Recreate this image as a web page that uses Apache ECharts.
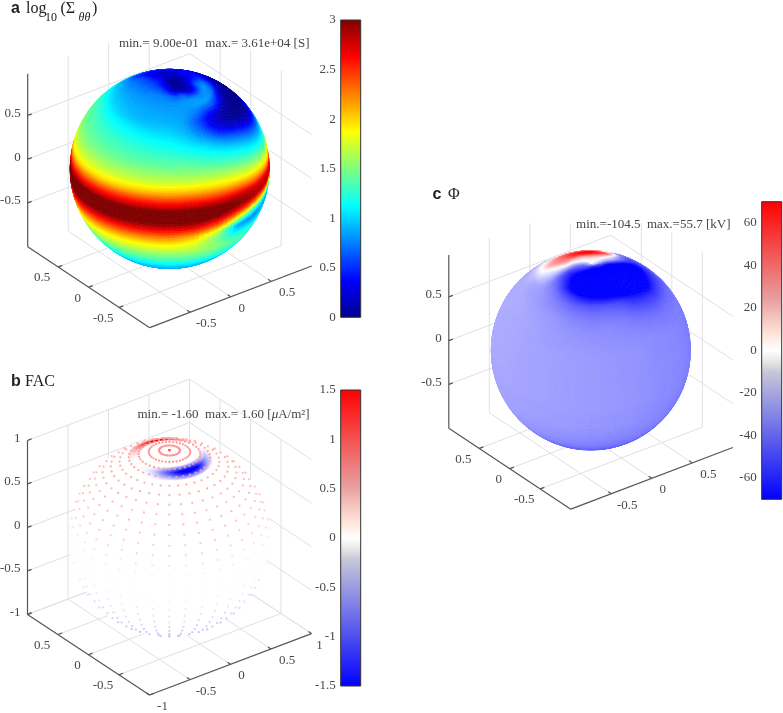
<!DOCTYPE html>
<html><head><meta charset="utf-8">
<style>html,body{margin:0;padding:0;background:#fff}#c{width:783px;height:713px}</style>
<script src="https://cdn.jsdelivr.net/npm/echarts@6/dist/echarts.min.js"></script>
</head><body><div id="c"></div>
<script>
// ---------- values ----------
const lonDeg = [-180,-165,-150,-135,-120,-105,-90,-75,-60,-45,-30,-15,0,15,30,45,60,75,90,105,120,135,150,165]; // relative to the meridian facing the viewer
const latDeg = [90,85,80,75,70,65,60,55,50,45,40,35,30,25,20,15,10,5,0,-5,-10,-15,-20,-25,-30,-35,-40,-45,-50,-55,-60,-65];

const sigma90 = [.05,.05,.05,.05,.05,.05,.05,.05,.05,.05,.05,.05,.05,.05,.05,.05,.05,.05,.05,.05,.05,.05,.05,.05];
const sigma85 = [.15,.15,.2,.25,.35,.4,.4,.4,.4,.35,.3,.2,.1,.05,.05,.05,.05,.05,.05,.05,.05,.1,.1,.15];
const sigma80 = [.15,.2,.25,.3,.4,.5,.55,.6,.6,.6,.6,.5,.35,.15,.1,.05,.05,.1,.2,.25,.25,.2,.2,.15];
const sigma75 = [.2,.2,.25,.3,.5,.6,.65,.7,.7,.75,.75,.75,.7,.6,.65,.4,.3,.45,.65,.6,.4,.35,.3,.25];
const sigma70 = [.3,.3,.35,.4,.6,.7,.75,.78,.8,.8,.8,.8,.8,.8,.82,.8,.75,.8,.85,.75,.55,.45,.4,.35];
const sigma65 = [.4,.4,.4,.45,.65,.78,.82,.85,.85,.85,.85,.85,.83,.83,.83,.85,.85,.8,.7,.55,.4,.35,.35,.4];
const sigma60 = [.5,.5,.5,.6,.8,.9,.92,.92,.9,.9,.88,.88,.87,.85,.75,.6,.6,.4,.15,.1,.1,.15,.3,.4];
const sigma55 = [.9,.9,.9,.9,.9,1,1.02,1,.98,.95,.93,.92,.92,.85,.6,.3,.15,.08,.03,.03,.05,.1,.2,.5];
const sigma50 = [1.1,1.1,1.1,1.1,1.1,1.13,1.15,1.12,1.1,1.08,1.05,1.02,1,.9,.65,.25,.05,0,0,0,0,.05,.1,.5];
const sigma45 = [1.2,1.2,1.2,1.2,1.2,1.26,1.28,1.25,1.2,1.18,1.15,1.12,1.1,1,.8,.45,.15,0,0,0,0,.05,.1,.5];
const sigma40 = [1.3,1.3,1.3,1.3,1.3,1.34,1.36,1.33,1.3,1.28,1.25,1.22,1.2,1.12,1,.75,.5,.2,.1,.1,.1,.2,.3,.6];
const sigma35 = [1.4,1.4,1.4,1.4,1.4,1.41,1.42,1.4,1.38,1.36,1.34,1.32,1.3,1.25,1.15,1,.8,.55,.35,.3,.3,.4,.6,.9];
const sigma30 = [1.5,1.5,1.5,1.5,1.5,1.5,1.5,1.48,1.46,1.45,1.44,1.43,1.42,1.4,1.3,1.2,1.05,.85,.7,.7,.8,.9,1,1.2];
const sigma25 = [1.6,1.6,1.6,1.6,1.6,1.6,1.6,1.6,1.6,1.59,1.59,1.58,1.58,1.55,1.5,1.38,1.25,1.1,1,1,1,1.1,1.3,1.4];
const sigma20 = [1.75,1.75,1.75,1.75,1.75,1.75,1.75,1.75,1.75,1.75,1.75,1.75,1.75,1.75,1.72,1.65,1.5,1.35,1.25,1.25,1.3,1.4,1.5,1.6];
const sigma15 = [1.95,1.95,1.95,1.95,1.95,1.95,1.95,1.97,2,2,2.02,2.04,2.05,2.05,2,1.9,1.8,1.7,1.6,1.6,1.7,1.75,1.8,1.9];
const sigma10 = [2.4,2.4,2.4,2.4,2.4,2.4,2.4,2.42,2.42,2.44,2.45,2.45,2.45,2.45,2.4,2.35,2.2,2.1,2,2,2.1,2.2,2.3,2.4];
const sigma05 = [2.85,2.85,2.85,2.85,2.85,2.85,2.85,2.85,2.85,2.85,2.85,2.85,2.85,2.85,2.85,2.85,2.75,2.7,2.6,2.6,2.7,2.8,2.85,2.85];
const sigma00 = [3.5,3.5,3.5,3.5,3.5,3.5,3.5,3.5,3.5,3.5,3.5,3.5,3.5,3.5,3.3,3,2.9,2.85,2.8,2.8,2.9,3,3.3,3.5];
const sigmaS05 = [3,3,3,3,3,3,3,3,3,3,3,3,3,3,2.8,2.5,2.2,1.9,1.6,1.6,1.9,2.3,2.7,3];
const sigmaS10 = [2.6,2.6,2.6,2.6,2.6,2.6,2.6,2.6,2.6,2.6,2.6,2.6,2.6,2.55,2.3,1.7,1.2,1,.95,.95,1.2,1.6,2,2.4];
const sigmaS15 = [2.25,2.25,2.25,2.25,2.25,2.25,2.25,2.25,2.25,2.25,2.25,2.25,2.25,2.1,1.7,.85,.75,.85,.9,.9,1,1.4,1.8,2.1];
const sigmaS20 = [1.95,1.95,1.95,1.95,1.95,1.95,1.95,1.95,1.95,1.95,1.95,1.95,1.95,1.85,1.5,1.05,1,1,1.05,1.1,1.2,1.4,1.7,1.9];
const sigmaS25 = [1.75,1.75,1.75,1.75,1.75,1.75,1.75,1.75,1.75,1.75,1.75,1.75,1.75,1.7,1.55,1.3,1.25,1.2,1.2,1.2,1.3,1.5,1.6,1.7];
const sigmaS30 = [1.55,1.55,1.55,1.55,1.55,1.55,1.55,1.55,1.55,1.55,1.55,1.55,1.55,1.55,1.5,1.4,1.3,1.25,1.25,1.3,1.3,1.4,1.5,1.5];
const sigmaS35 = [1.4,1.4,1.4,1.4,1.4,1.4,1.4,1.4,1.4,1.4,1.4,1.4,1.4,1.4,1.38,1.32,1.28,1.25,1.25,1.25,1.3,1.35,1.4,1.4];
const sigmaS40 = [1.25,1.25,1.25,1.25,1.25,1.25,1.25,1.25,1.25,1.25,1.25,1.25,1.25,1.25,1.25,1.22,1.2,1.18,1.18,1.2,1.2,1.22,1.25,1.25];
const sigmaS45 = [1.1,1.1,1.1,1.1,1.1,1.1,1.1,1.1,1.1,1.1,1.1,1.1,1.1,1.1,1.1,1.1,1.1,1.1,1.1,1.1,1.1,1.1,1.1,1.1];
const sigmaS50 = [1,1,1,1,1,1,1,1,1,1,1,1,1,1,1,1,1,1,1,1,1,1,1,1];
const sigmaS55 = [.95,.95,.95,.95,.95,.95,.95,.95,.95,.95,.95,.95,.95,.95,.95,.95,.95,.95,.95,.95,.95,.95,.95,.95];
const sigmaS60 = [.9,.9,.9,.9,.9,.9,.9,.9,.9,.9,.9,.9,.9,.9,.9,.9,.9,.9,.9,.9,.9,.9,.9,.9];
const sigmaS65 = [.9,.9,.9,.9,.9,.9,.9,.9,.9,.9,.9,.9,.9,.9,.9,.9,.9,.9,.9,.9,.9,.9,.9,.9];

const phi90 = [0,0,0,0,0,0,0,0,0,0,0,0,0,0,0,0,0,0,0,0,0,0,0,0];
const phi85 = [2,2,2,0,0,-5,-15,-25,-35,-40,-45,-50,-55,-60,-60,-55,-50,-45,-30,-20,-10,-5,0,2];
const phi80 = [25,25,20,15,10,5,-10,-30,-45,-55,-65,-75,-80,-85,-85,-85,-85,-80,-70,-45,-20,-5,8,18];
const phi75 = [60,60,55,48,35,25,5,-20,-50,-65,-80,-90,-95,-100,-100,-100,-100,-100,-85,-60,-25,-5,22,48];
const phi70 = [70,70,62,50,38,30,5,-15,-45,-60,-75,-90,-100,-105,-105,-105,-105,-105,-100,-75,-40,-15,40,60];
const phi65 = [60,60,50,40,30,25,0,-15,-35,-50,-68,-85,-90,-95,-95,-100,-100,-100,-95,-80,-50,-35,10,40];
const phi60 = [30,30,30,20,10,5,-5,-18,-30,-38,-50,-60,-68,-70,-72,-80,-85,-88,-80,-70,-55,-45,-30,10];
const phi55 = [0,0,-5,-8,-8,-12,-18,-25,-28,-32,-38,-45,-48,-48,-50,-60,-68,-75,-65,-60,-50,-40,-30,-10];
const phi50 = [-20,-20,-20,-20,-20,-20,-21,-25,-27,-30,-33,-37,-40,-40,-42,-50,-55,-58,-55,-52,-45,-40,-30,-20];
const phi45 = [-22,-22,-22,-22,-22,-22,-22,-23,-25,-27,-29,-33,-35,-35,-37,-42,-46,-48,-46,-45,-40,-35,-30,-22];
const phi40 = [-22,-22,-22,-22,-22,-22,-22,-23,-24,-26,-28,-30,-32,-32,-34,-37,-40,-40,-40,-40,-38,-34,-30,-22];
const phi35 = [-22,-22,-22,-22,-22,-22,-22,-23,-24,-25,-27,-29,-30,-31,-32,-34,-36,-37,-37,-37,-35,-32,-28,-22];
const phi30 = [-22,-22,-22,-22,-22,-22,-22,-23,-24,-25,-27,-28,-29,-30,-31,-32,-34,-35,-35,-35,-33,-30,-26,-22];
const phi25 = [-22,-22,-22,-22,-22,-22,-22,-23,-24,-25,-26,-27,-28,-29,-30,-32,-33,-34,-35,-35,-33,-30,-26,-22];
const phi20 = [-22,-22,-22,-22,-22,-22,-22,-23,-24,-25,-26,-27,-28,-29,-30,-32,-33,-34,-35,-35,-33,-30,-26,-22];
const phi15 = [-22,-22,-22,-22,-22,-22,-22,-23,-24,-25,-26,-27,-28,-29,-30,-32,-33,-34,-35,-35,-33,-30,-26,-22];
const phi10 = [-22,-22,-22,-22,-22,-22,-22,-23,-24,-25,-26,-27,-28,-29,-30,-32,-33,-34,-35,-35,-33,-30,-26,-22];
const phi05 = [-22,-22,-22,-22,-22,-22,-22,-23,-24,-25,-26,-27,-28,-29,-30,-32,-33,-34,-35,-35,-33,-30,-26,-22];
const phi00 = [-23,-23,-23,-23,-23,-23,-23,-24,-24,-25,-26,-27,-28,-29,-30,-32,-33,-34,-35,-35,-33,-30,-27,-23];
const phiS05 = [-23,-23,-23,-23,-23,-23,-23,-24,-24,-25,-26,-27,-28,-29,-30,-32,-33,-34,-35,-35,-33,-30,-27,-23];
const phiS10 = [-23,-23,-23,-23,-23,-23,-23,-24,-25,-26,-27,-27,-28,-29,-31,-32,-33,-35,-36,-36,-34,-31,-27,-23];
const phiS15 = [-24,-24,-24,-24,-24,-24,-24,-24,-25,-26,-27,-28,-29,-30,-31,-33,-34,-35,-36,-36,-34,-31,-28,-24];
const phiS20 = [-24,-24,-24,-24,-24,-24,-24,-25,-25,-26,-27,-28,-29,-30,-31,-33,-34,-35,-36,-36,-34,-31,-28,-24];
const phiS25 = [-25,-25,-25,-25,-25,-25,-25,-25,-26,-27,-28,-29,-30,-31,-32,-33,-35,-36,-36,-36,-34,-32,-29,-25];
const phiS30 = [-26,-26,-26,-26,-26,-26,-26,-26,-27,-28,-29,-30,-31,-32,-33,-34,-35,-36,-37,-37,-35,-33,-30,-26];
const phiS35 = [-27,-27,-27,-27,-27,-27,-27,-27,-28,-29,-30,-31,-32,-33,-34,-35,-36,-37,-38,-38,-36,-34,-31,-27];
const phiS40 = [-29,-29,-29,-29,-29,-29,-29,-29,-30,-31,-32,-33,-34,-35,-35,-36,-37,-38,-39,-39,-37,-35,-32,-29];
const phiS45 = [-31,-31,-31,-31,-31,-31,-31,-31,-32,-33,-34,-35,-36,-37,-37,-38,-39,-40,-40,-40,-38,-36,-34,-31];
const phiS50 = [-34,-34,-34,-34,-34,-34,-34,-34,-35,-36,-37,-38,-39,-39,-39,-40,-40,-41,-41,-41,-40,-38,-36,-34];
const phiS55 = [-37,-37,-37,-37,-37,-37,-37,-37,-38,-39,-40,-40,-41,-41,-41,-41,-42,-42,-42,-42,-41,-40,-38,-37];
const phiS60 = [-40,-40,-40,-40,-40,-40,-40,-40,-40,-41,-41,-42,-42,-42,-42,-43,-43,-43,-43,-43,-42,-41,-40,-40];
const phiS65 = [-42,-42,-42,-42,-42,-42,-42,-42,-42,-42,-42,-42,-42,-42,-42,-42,-42,-42,-42,-42,-42,-42,-42,-42];

// FAC sampled dots: one value per latitude ring
const facLats   = [90,84,78,72,66,60,54,48,42,36,30,24,18,12,6,0,-6,-12,-18,-24,-30,-36,-42,-48,-54,-60];
const facValues = [.9,.65,.65,.6,.55,.5,.5,.45,.42,.4,.36,.3,.25,.18,.1,.04,-.03,-.07,-.12,-.16,-.2,-.25,-.3,-.33,-.36,-.36];
const facLons   = [-180,-170,-160,-150,-140,-130,-120,-110,-100,-90,-80,-70,-60,-50,-40,-30,-20,-10,0,10,20,30,40,50,60,70,80,90,100,110,120,130,140,150,160,170];
// FAC auroral arcs, same longitudes
const arcLats = [74,71.5,69,66.5,64];
const arc74 = [.2,.28,.3,.3,.25,.18,.12,.06,.03,0,0,0,0,0,0,0,0,0,-.05,-.1,-.15,-.15,-.15,-.1,-.05,0,0,0,0,0,0,0,.01,.04,.1,.18];
const arc71 = [.9,1.1,1.3,1.3,1.1,.85,.55,.35,.2,.1,.05,.02,0,-.02,-.06,-.12,-.25,-.45,-.65,-.85,-1,-1,-1,-.9,-.7,-.5,-.3,-.2,-.12,-.05,0,.02,.08,.2,.35,.6];
const arc68 = [1.1,1.4,1.6,1.6,1.4,1.1,.8,.5,.3,.2,.1,.05,0,-.05,-.12,-.25,-.45,-.8,-1.1,-1.4,-1.6,-1.7,-1.7,-1.6,-1.3,-.9,-.6,-.4,-.25,-.12,-.03,.05,.15,.35,.6,.85];
const arc65 = [.7,.9,1,1,.9,.7,.5,.35,.2,.12,.06,.02,0,-.03,-.08,-.15,-.3,-.5,-.7,-.95,-1.15,-1.25,-1.2,-1.1,-.9,-.6,-.4,-.25,-.15,-.06,0,.02,.06,.15,.3,.5];
const arc62 = [0,0,0,0,0,0,0,0,0,0,0,0,0,0,-.02,-.05,-.1,-.15,-.2,-.25,-.3,-.3,-.3,-.25,-.2,-.12,-.08,-.04,0,0,0,0,0,0,0,0];

// colour bars and tick labels
const sigmaBar = [0,3];
const facBar = [-1.5,1.5];
const phiBar = [-70,70];
const phiBarTicks = [-60,-40,-20,0,20,40,60];
const boxTicks = [-0.5,0,0.5];
const boxTicksFull = [-1,-0.5,0,0.5,1];
const sigmaNote = 'min.= 9.00e-01  max.= 3.61e+04 [S]';
const phiNote = 'min.=-104.5  max.=55.7 [kV]';

// ---------- colour ramps ----------
const jetStops = [[0,[0,0,143]],[.125,[0,0,255]],[.375,[0,255,255]],[.625,[255,255,0]],[.875,[255,0,0]],[1,[128,0,0]]];
const divStops = [[0,[0,0,255]],[.5,[255,255,255]],[1,[255,0,0]]];
const barStops = [[0,[0,0,255]],[.43,[200,200,215]],[.455,[225,225,225]],[.5,[255,255,255]],[.56,[255,225,215]],[.67,[232,160,160]],[1,[255,0,0]]];
function ramp(stops,t){
  t=Math.max(0,Math.min(1,t));
  for(let i=1;i<stops.length;i++){ if(t<=stops[i][0]){
    const a=stops[i-1],b=stops[i],f=(t-a[0])/(b[0]-a[0]);
    return 'rgb('+[0,1,2].map(k=>Math.round(a[1][k]+(b[1][k]-a[1][k])*f)).join(',')+')';
  }}
  return 'rgb('+stops[stops.length-1][1].join(',')+')';
}
// ---------- view of the 3-D scene (orthographic) ----------
const D=Math.PI/180, LON0=233*D;
const U=[.8,-.6,0], V=[.29,.39,.875], W=[-.525,-.7,.485];
const BU=[.81,-.61,0], BV=[.3085,.405,.875];
const dot=(a,p)=>a[0]*p[0]+a[1]*p[1]+a[2]*p[2];
const geo=(lat,lon)=>{const c=Math.cos(lat*D);return [c*Math.cos(lon*D+LON0),c*Math.sin(lon*D+LON0),Math.sin(lat*D)];};

// Sphere surface: patches of a lat/lon table
function surface(gridIndex,lats,lons,rows,stops,lo,hi,nLat,nLon,fade){
  const data=[];
  for(let i=0;i<lats.length-1;i++)for(let j=0;j<lons.length;j++)data.push([i,j,rows[i][j]]);
  const step=lons[1]-lons[0];
  return {type:'custom',xAxisIndex:gridIndex,yAxisIndex:gridIndex,silent:true,animation:false,clip:false,data,
    encode:{x:0,y:1},
    renderItem(p,api){
      const i=api.value(0),j=api.value(1),j2=(j+1)%lons.length,children=[];
      const la0=lats[i],la1=lats[i+1],lo0=lons[j];
      const v00=rows[i][j],v01=rows[i][j2],v10=rows[i+1][j],v11=rows[i+1][j2];
      let limb=false;
      const c=api.coord([0,0]),r=api.size([1,1]);
      for(let a=0;a<nLat;a++)for(let b=0;b<nLon;b++){
        const fa=(a+.5)/nLat,fb=(b+.5)/nLon;
        const latA=la0+(la1-la0)*a/nLat,latB=la0+(la1-la0)*(a+1)/nLat;
        const lonA=lo0+step*b/nLon,lonB=lo0+step*(b+1)/nLon;
        const pc=geo(la0+(la1-la0)*fa,lo0+step*fb);
        if(dot(W,pc)<-0.01)continue;
        const val=v00*(1-fa)*(1-fb)+v01*(1-fa)*fb+v10*fa*(1-fb)+v11*fa*fb;
        if(fade&&Math.abs(val)<.05)continue;
        const col=ramp(stops,(val-lo)/(hi-lo));
        const pts=[[latA,lonA],[latA,lonB],[latB,lonB],[latB,lonA]].map(q=>{
          const g=geo(q[0],q[1]),uu=dot(U,g),vv=dot(V,g);
          if(uu*uu+vv*vv>.8)limb=true;
          return api.coord([uu,vv]);});
        const style={fill:col,stroke:col,lineWidth:.7};
        if(fade)style.opacity=Math.min(1,Math.abs(val)/.6);
        children.push({type:'polygon',shape:{points:pts},style});
      }
      if(!children.length)return null;
      const g={type:'group',children};
      if(limb)g.clipPath={type:'circle',shape:{cx:c[0],cy:c[1],r:r[0]}};
      return g;
    }};
}
// Box lines from tick lists
function boxSeries(gridIndex,gridTicks,zTop,clip){
  const seg=[];
  const add=(a,b,k)=>seg.push([...a,...b,k]);
  const vals=gridTicks;
  vals.forEach(z=>{add([-1,1,z],[1,1,z],0);add([1,1,z],[1,-1,z],0);});
  vals.forEach(t=>{ if(t>-1){add([t,1,-1],[t,1,1],0);add([t,-1,-1],[t,1,-1],0);}
    if(t<1&&t>-1||t===1){ if(t<1)add([1,t,-1],[1,t,1],0); add([-1,t,-1],[1,t,-1],0);} });
  return {type:'custom',xAxisIndex:gridIndex,yAxisIndex:gridIndex,silent:true,animation:false,clip,data:seg,encode:{x:0,y:1},
    renderItem(p,api){
      const a=[api.value(0),api.value(1),api.value(2)],b=[api.value(3),api.value(4),api.value(5)];
      const p1=api.coord([dot(BU,a),dot(BV,a)]),p2=api.coord([dot(BU,b),dot(BV,b)]);
      return {type:'line',shape:{x1:p1[0],y1:p1[1],x2:p2[0],y2:p2[1]},style:{stroke:'#e0e0e6',lineWidth:1}};
    }};
}
function axisSeries(gridIndex,xT,yT,zT,zTop){
  const seg=[[-1,1,-1,-1,1,zTop],[-1,1,-1,-1,-1,-1],[-1,-1,-1,1,-1,-1]];
  zT.forEach(z=>seg.push([-1,1,z,-.95,1,z]));
  yT.forEach(y=>seg.push([-1,y,-1,-.95,y,-1]));
  xT.forEach(x=>seg.push([x,-1,-1,x,-.95,-1]));
  return {type:'custom',xAxisIndex:gridIndex,yAxisIndex:gridIndex,silent:true,animation:false,clip:false,data:seg,encode:{x:0,y:1},
    renderItem(p,api){
      const a=[api.value(0),api.value(1),api.value(2)],b=[api.value(3),api.value(4),api.value(5)];
      const p1=api.coord([dot(BU,a),dot(BV,a)]),p2=api.coord([dot(BU,b),dot(BV,b)]);
      return {type:'line',shape:{x1:p1[0],y1:p1[1],x2:p2[0],y2:p2[1]},style:{stroke:'#555',lineWidth:1.2}};
    }};
}
const TICK_FONT='13px "Liberation Serif"';
function labelSeries(gridIndex,xT,yT,zT){
  const L=[];
  zT.forEach(z=>L.push([-1,1,z,z,-7,-2,0]));
  yT.forEach(y=>L.push([-1,y,-1,y,y===0?-11:-16,11,1]));
  xT.forEach(x=>L.push([x,-1,-1,x,Math.abs(x)===1?(x>0?8:13):(x===0?11:16),x===1?12:11.5,1]));
  return {type:'custom',xAxisIndex:gridIndex,yAxisIndex:gridIndex,silent:true,animation:false,clip:false,data:L,encode:{x:0,y:1},
    renderItem(p,api){
      const a=[api.value(0),api.value(1),api.value(2)];
      const c=api.coord([dot(BU,a),dot(BV,a)]);
      return {type:'text',x:c[0]+api.value(4),y:c[1]+api.value(5),
        style:{text:String(api.value(3)),font:TICK_FONT,fill:'#484848',align:api.value(6)?'center':'right',verticalAlign:'middle'}};
    }};
}
function colorBar(gridIndex,range,stops){
  return {type:'custom',xAxisIndex:gridIndex,yAxisIndex:gridIndex,silent:true,animation:false,clip:false,
    data:[[0,range[0],1,range[1]]],encode:{x:0,y:1},
    renderItem(p,api){
      const a=api.coord([api.value(0),api.value(1)]),b=api.coord([api.value(2),api.value(3)]);
      return {type:'rect',shape:{x:a[0],y:b[1],width:b[0]-a[0],height:a[1]-b[1]},
        style:{stroke:'#333',lineWidth:1,fill:new echarts.graphic.LinearGradient(0,1,0,0,stops.map(s=>({offset:s[0],color:'rgb('+s[1].join(',')+')'})))}};
    }};
}
// ---------- layout ----------
const centres=[[169.7,168.8,43],[169.5,538,370],[590.8,350.3,223.5]];
const grids=[],xAxes=[],yAxes=[];
centres.forEach(c=>{
  const left=c[0]-165,top=c[2],w=340,h=345;
  grids.push({left,top,width:w,height:h});
  xAxes.push({type:'value',show:false,min:(left-c[0])/100,max:(left+w-c[0])/100});
  yAxes.push({type:'value',show:false,min:(c[1]-top-h)/100,max:(c[1]-top)/100});
});
[[340.7,20,297.3,sigmaBar,0.5,null],[340.7,390,296,facBar,0.5,null],[761.7,201.7,297.6,phiBar,null,phiBarTicks]].forEach((b,n)=>{
  const gi=grids.length;
  grids.push({left:b[0],top:b[1],width:20,height:b[2]});
  xAxes.push({type:'value',show:false,min:0,max:1,gridIndex:gi});
  const ax={type:'value',gridIndex:gi,position:'left',min:b[3][0],max:b[3][1],splitLine:{show:false},axisTick:{show:false},axisLine:{show:false},
    axisLabel:{fontFamily:'Liberation Serif',fontSize:13,color:'#484848',margin:5}};
  if(b[4])ax.interval=b[4];
  if(b[5]){ax.axisLabel.customValues=b[5];ax.axisTick.customValues=b[5];}
  yAxes.push(ax);
});
grids.forEach((g,i)=>{xAxes[i].gridIndex=i;yAxes[i].gridIndex=i;});

const sigmaRows=[sigma90,sigma85,sigma80,sigma75,sigma70,sigma65,sigma60,sigma55,sigma50,sigma45,sigma40,sigma35,sigma30,sigma25,sigma20,sigma15,sigma10,sigma05,sigma00,sigmaS05,sigmaS10,sigmaS15,sigmaS20,sigmaS25,sigmaS30,sigmaS35,sigmaS40,sigmaS45,sigmaS50,sigmaS55,sigmaS60,sigmaS65];
const phiRows=[phi90,phi85,phi80,phi75,phi70,phi65,phi60,phi55,phi50,phi45,phi40,phi35,phi30,phi25,phi20,phi15,phi10,phi05,phi00,phiS05,phiS10,phiS15,phiS20,phiS25,phiS30,phiS35,phiS40,phiS45,phiS50,phiS55,phiS60,phiS65];
const arcRows=[arc74,arc71,arc68,arc65,arc62];

// FAC dots
const facDots=[];
facLats.forEach((lat,i)=>{facLons.forEach(lon=>{
  const g=geo(lat,lon);
  if(dot(W,g)>0)facDots.push([dot(U,g),dot(V,g),facValues[i]]);
  });});

const series=[
  boxSeries(0,boxTicks,1,true),
  axisSeries(0,boxTicks,boxTicks,boxTicks,.975),
  labelSeries(0,boxTicks,boxTicks,boxTicks),
  surface(0,latDeg,lonDeg,sigmaRows,jetStops,sigmaBar[0],sigmaBar[1],4,5),

  boxSeries(1,boxTicksFull,1,false),
  axisSeries(1,boxTicksFull,boxTicksFull,boxTicksFull,1),
  labelSeries(1,boxTicksFull,boxTicks,boxTicksFull),
  {type:'custom',xAxisIndex:1,yAxisIndex:1,silent:true,animation:false,clip:false,data:[[0,0,1]],encode:{x:0,y:1},
    renderItem(p,api){const c=api.coord([api.value(0),api.value(1)]),r=api.size([api.value(2),api.value(2)]);
      return {type:'circle',shape:{cx:c[0],cy:c[1],r:r[0]},style:{fill:'#fff'}};}},
  {type:'scatter',xAxisIndex:1,yAxisIndex:1,silent:true,animation:false,symbolSize:2.3,data:facDots,clip:false,
    itemStyle:{opacity:.95,color:p=>ramp(divStops,(p.value[2]-facBar[0])/(facBar[1]-facBar[0]))}},
  surface(1,arcLats,facLons,arcRows,divStops,facBar[0],facBar[1],4,3,true),

  boxSeries(2,boxTicks,1,true),
  axisSeries(2,boxTicks,boxTicks,boxTicks,.98),
  labelSeries(2,boxTicks,boxTicks,boxTicks),
  surface(2,latDeg,lonDeg,phiRows,divStops,phiBar[0],phiBar[1],4,5),

  colorBar(3,sigmaBar,jetStops),
  colorBar(4,facBar,barStops),
  colorBar(5,phiBar,barStops)
];

// ---------- text ----------
const serif='"Liberation Serif"';
const T=(x,y,text,font,align,extra)=>({type:'text',x,y,silent:true,z:20,style:Object.assign({text,font,fill:'#222',align:align||'left',verticalAlign:'middle'},extra||{})});
const boldF='bold 16px "Liberation Sans"';
const graphics=[
  T(11,9,'a',boldF),T(26,9,'log','16px '+serif),T(45,17.5,'10','12px '+serif),T(60.5,9,'(Σ','16px '+serif),
  T(78.5,18,'θθ','italic 12px '+serif),T(92,9,')','16px '+serif),
  T(11,382,'b',boldF),T(25,382,'FAC','16px '+serif),
  T(432.5,195,'c',boldF),T(448,195,'Φ','16px '+serif),
  T(309.5,43.5,sigmaNote,'13px '+serif,'right',{fill:'#444'}),
  T(309.5,414.5,'min.= -1.60  max.= 1.60 [{i|μ}A/m²]','13px '+serif,'right',{fill:'#444',rich:{i:{font:'italic 13px '+serif,fill:'#444'}}}),
  T(730.5,224.5,phiNote,'13px '+serif,'right',{fill:'#444'})
];

const chart=echarts.init(document.getElementById('c'),null,{renderer:'canvas'});
chart.setOption({animation:false,backgroundColor:'#fff',grid:grids,xAxis:xAxes,yAxis:yAxes,series,graphic:{elements:graphics}});
</script></body></html>
